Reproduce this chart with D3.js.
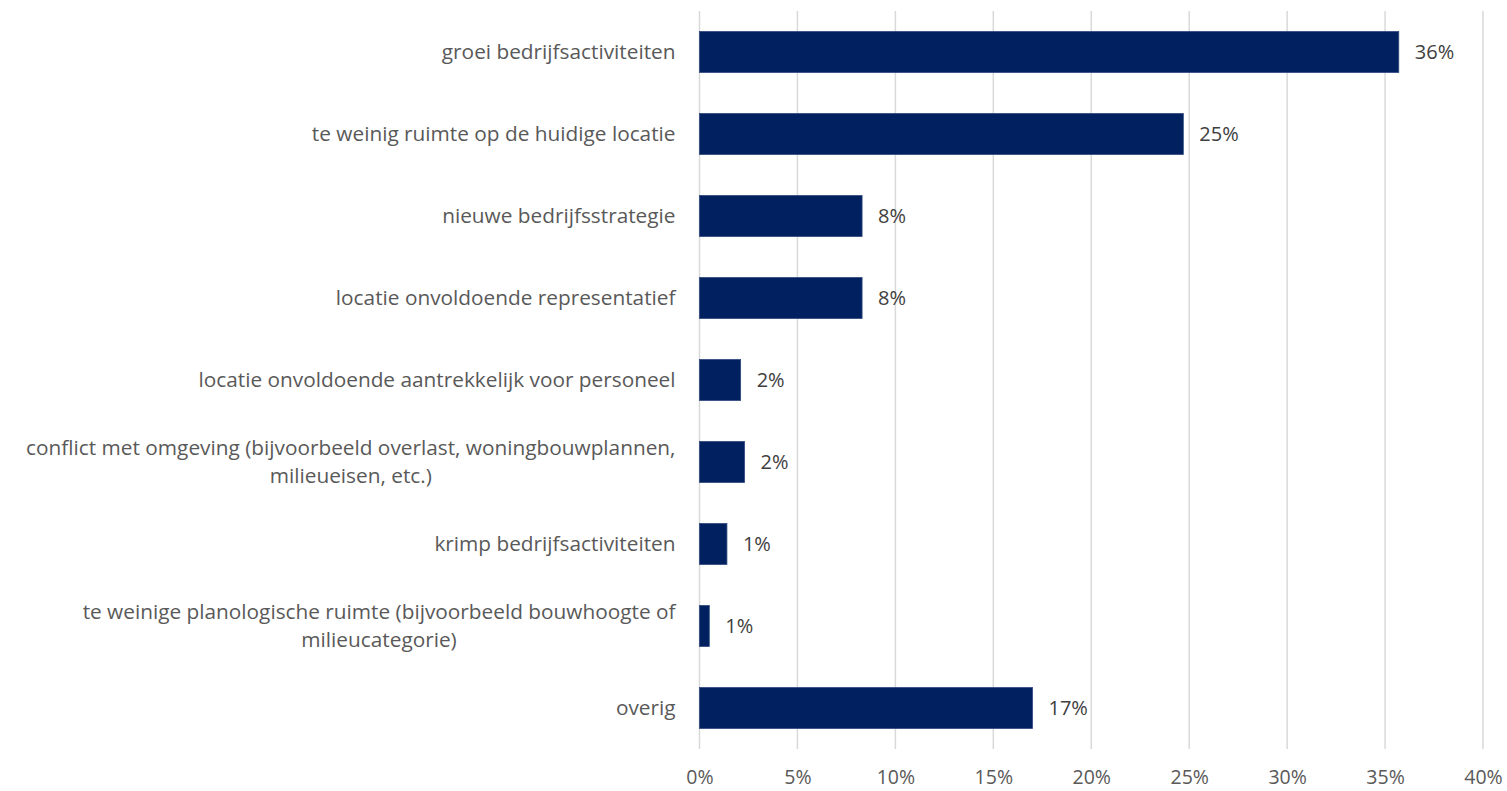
<!DOCTYPE html>
<html>
<head>
<meta charset="utf-8">
<script src="https://cdn.jsdelivr.net/npm/d3@7"></script>
<style>
  html, body { margin: 0; padding: 0; background: #ffffff; }
  svg { display: block; }
  text { font-family: "Open Sans", "Noto Sans", sans-serif; }
</style>
</head>
<body>
<svg id="chart" width="1507" height="791"></svg>
<script>
// Reasons for relocation, share of responses
const categories = [
  "groei bedrijfsactiviteiten",
  "te weinig ruimte op de huidige locatie",
  "nieuwe bedrijfsstrategie",
  "locatie onvoldoende representatief",
  "locatie onvoldoende aantrekkelijk voor personeel",
  "conflict met omgeving (bijvoorbeeld overlast, woningbouwplannen,\nmilieueisen, etc.)",
  "krimp bedrijfsactiviteiten",
  "te weinige planologische ruimte (bijvoorbeeld bouwhoogte of\nmilieucategorie)",
  "overig"
];
const values = [0.357, 0.247, 0.083, 0.083, 0.021, 0.023, 0.014, 0.005, 0.170];
const xTicks = [0, 0.05, 0.10, 0.15, 0.20, 0.25, 0.30, 0.35, 0.40];

const svg = d3.select("#chart");
const margin = { top: 11, right: 24, bottom: 42, left: 699.5 };
const width = 1507, height = 791;
const catFont = "20.8px";
const valFont = "20px";
const tickFont = "19.5px";

const x = d3.scaleLinear()
  .domain([0, 0.40])
  .range([margin.left, 1483]);

const y = d3.scaleBand()
  .domain(categories)
  .range([margin.top, height - margin.bottom])
  .paddingInner(0.5)
  .paddingOuter(0.25);

const pct = d3.format(".0%");

// vertical gridlines
svg.append("g")
  .selectAll("line")
  .data(xTicks)
  .join("line")
  .attr("x1", d => x(d)).attr("x2", d => x(d))
  .attr("y1", margin.top).attr("y2", height - margin.bottom)
  .attr("stroke", "#d9d9d9")
  .attr("stroke-width", 1.5);

// x axis labels
const xAxis = d3.axisBottom(x).tickValues(xTicks).tickFormat(pct).tickSize(0).tickPadding(0);
const gx = svg.append("g")
  .attr("transform", `translate(0,${height - margin.bottom})`)
  .call(xAxis);
gx.select(".domain").remove();
gx.selectAll("text")
  .attr("dy", null)
  .attr("y", 35)
  .attr("fill", "#595959")
  .style("font-size", tickFont)
  .style("font-family", "'Open Sans', sans-serif");

// bars
svg.append("g")
  .selectAll("rect")
  .data(values)
  .join("rect")
  .attr("x", x(0))
  .attr("y", (d, i) => y(categories[i]))
  .attr("width", d => x(d) - x(0))
  .attr("height", y.bandwidth())
  .attr("fill", "#002060")
  .attr("stroke", "#2e4a7d")
  .attr("stroke-width", 0.8);

// value labels
svg.append("g")
  .selectAll("text")
  .data(values)
  .join("text")
  .attr("x", d => x(d) + 16)
  .attr("y", (d, i) => y(categories[i]) + y.bandwidth() / 2)
  .attr("dy", "0.35em")
  .attr("fill", "#404040")
  .style("font-size", valFont)
  .text(d => pct(d));

// category labels (right-aligned block, lines centred within block)
const labelRight = x(0) - 24;
const lineHeight = 28;
const gy = svg.append("g");
categories.forEach((c, i) => {
  const lines = c.split("\n");
  const cy = y(c) + y.bandwidth() / 2;
  const t = gy.append("text")
    .attr("fill", "#595959")
    .style("font-size", catFont);
  if (lines.length === 1) {
    t.attr("x", labelRight).attr("y", cy).attr("dy", "0.35em")
      .attr("text-anchor", "end").text(c);
  } else {
    // measure widest line to centre the rest under it
    const probe = gy.append("text").style("font-size", catFont).text(lines[0]);
    const w = probe.node().getComputedTextLength();
    probe.remove();
    const cx = labelRight - w / 2;
    lines.forEach((ln, k) => {
      t.append("tspan")
        .attr("x", cx)
        .attr("y", cy + (k - (lines.length - 1) / 2) * lineHeight)
        .attr("dy", "0.35em")
        .attr("text-anchor", "middle")
        .text(ln);
    });
  }
});
</script>
</body>
</html>
